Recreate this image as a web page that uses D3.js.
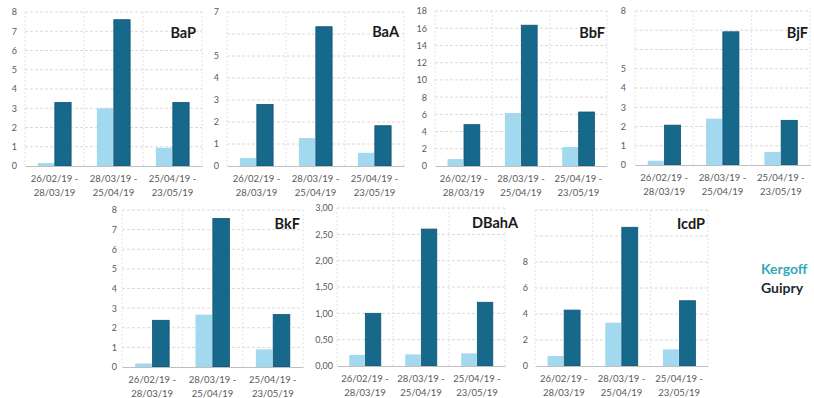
<!DOCTYPE html>
<html>
<head>
<meta charset="utf-8">
<script src="https://cdn.jsdelivr.net/npm/d3@7"></script>
<style>
  html, body { margin: 0; padding: 0; background: #ffffff; }
  svg { display: block; }
  text { font-family: Lato, "Open Sans", "Liberation Sans", sans-serif; }
</style>
</head>
<body>
<svg id="chart" width="814" height="398"></svg>
<script>
// ---------- data ----------
const categories = ["26/02/19 - 28/03/19", "28/03/19 - 25/04/19", "25/04/19 - 23/05/19"];
const seriesNames = ["Kergoff", "Guipry"];

const compounds = ["BaP", "BaA", "BbF", "BjF", "BkF", "DBahA", "IcdP"];

const kergoffBaP   = [0.15, 3.0, 0.95];
const guipryBaP    = [3.3, 7.6, 3.3];
const kergoffBaA   = [0.36, 1.27, 0.6];
const guipryBaA    = [2.8, 6.33, 1.83];
const kergoffBbF   = [0.8, 6.15, 2.2];
const guipryBbF    = [4.8, 16.35, 6.27];
const kergoffBjF   = [0.22, 2.41, 0.68];
const guipryBjF    = [2.07, 6.92, 2.32];
const kergoffBkF   = [0.18, 2.67, 0.9];
const guipryBkF    = [2.38, 7.57, 2.67];
const kergoffDBahA = [0.21, 0.22, 0.24];
const guipryDBahA  = [1.0, 2.6, 1.21];
const kergoffIcdP  = [0.77, 3.33, 1.28];
const guipryIcdP   = [4.3, 10.67, 5.02];

// tick values and labels (empty string = label not shown in the reference)
const ticksBaP   = [0, 1, 2, 3, 4, 5, 6, 7, 8];
const labelsBaP  = ["0", "1", "2", "3", "4", "5", "6", "7", "8"];
const ticksBaA   = [0, 1, 2, 3, 4, 5, 6, 7];
const labelsBaA  = ["0", "1", "2", "3", "4", "5", "", "7"];
const ticksBbF   = [0, 2, 4, 6, 8, 10, 12, 14, 16, 18];
const labelsBbF  = ["0", "2", "4", "6", "8", "10", "12", "14", "16", "18"];
const ticksBjF   = [0, 1, 2, 3, 4, 5, 6, 7, 8];
const labelsBjF  = ["0", "1", "2", "3", "4", "5", "", "", "8"];
const ticksBkF   = [0, 1, 2, 3, 4, 5, 6, 7, 8];
const labelsBkF  = ["0", "1", "2", "3", "4", "5", "6", "7", "8"];
const ticksDBahA = [0, 0.5, 1, 1.5, 2, 2.5, 3];
const labelsDBahA = ["0,00", "0,50", "1,00", "1,50", "2,00", "2,50", "3,00"];
const ticksIcdP  = [0, 2, 4, 6, 8, 10, 12];
const labelsIcdP = ["0", "2", "4", "6", "8", "", ""];

const dataByCompound = {
  BaP:   { k: kergoffBaP,   g: guipryBaP,   ticks: ticksBaP,   labels: labelsBaP },
  BaA:   { k: kergoffBaA,   g: guipryBaA,   ticks: ticksBaA,   labels: labelsBaA },
  BbF:   { k: kergoffBbF,   g: guipryBbF,   ticks: ticksBbF,   labels: labelsBbF },
  BjF:   { k: kergoffBjF,   g: guipryBjF,   ticks: ticksBjF,   labels: labelsBjF },
  BkF:   { k: kergoffBkF,   g: guipryBkF,   ticks: ticksBkF,   labels: labelsBkF },
  DBahA: { k: kergoffDBahA, g: guipryDBahA, ticks: ticksDBahA, labels: labelsDBahA },
  IcdP:  { k: kergoffIcdP,  g: guipryIcdP,  ticks: ticksIcdP,  labels: labelsIcdP }
};

// ---------- layout ----------
const layout = {
  BaP:   { left: 25,  right: 202, base: 166, top: 12,  labelX: 17,  titleX: 196, titleY: 38 },
  BaA:   { left: 227, right: 404, base: 166, top: 12,  labelX: 219, titleX: 399, titleY: 37 },
  BbF:   { left: 435, right: 607, base: 166, top: 11,  labelX: 427, titleX: 605, titleY: 38 },
  BjF:   { left: 635, right: 810, base: 165, top: 11,  labelX: 626, titleX: 808, titleY: 38 },
  BkF:   { left: 122, right: 303, base: 367, top: 210, labelX: 117, titleX: 300, titleY: 229 },
  DBahA: { left: 337, right: 505, base: 366, top: 208, labelX: 333, titleX: 518, titleY: 228 },
  IcdP:  { left: 535, right: 708, base: 366, top: 210, labelX: 528, titleX: 705, titleY: 229 }
};

const colors = { Kergoff: "#a3d9ee", Guipry: "#17698c" };
const legendColors = { Kergoff: "#35a7b8", Guipry: "#1d2a33" };

const svg = d3.select("#chart");

compounds.forEach(name => {
  const d = dataByCompound[name];
  const L = layout[name];
  const yMax = d.ticks[d.ticks.length - 1];

  const x0 = d3.scaleBand().domain(categories).range([L.left, L.right]).paddingInner(0).paddingOuter(0);
  const x1 = d3.scaleBand().domain(seriesNames).range([0, x0.bandwidth()]).paddingInner(0.04).paddingOuter(0.76);
  const y = d3.scaleLinear().domain([0, yMax]).range([L.base, L.top]);

  const g = svg.append("g").attr("class", "panel-" + name);

  // horizontal gridlines
  g.selectAll("line.hgrid").data(d.ticks.filter(t => t > 0)).join("line")
    .attr("class", "hgrid")
    .attr("x1", L.left).attr("x2", L.right)
    .attr("y1", t => y(t)).attr("y2", t => y(t))
    .attr("stroke", "#dadada").attr("stroke-width", 1)
    .attr("stroke-dasharray", "3,2");

  // vertical gridlines at category boundaries
  const bounds = categories.map(c => x0(c)).concat([L.right]);
  g.selectAll("line.vgrid").data(bounds).join("line")
    .attr("class", "vgrid")
    .attr("x1", b => b).attr("x2", b => b)
    .attr("y1", y(yMax)).attr("y2", L.base)
    .attr("stroke", "#e4e4e4").attr("stroke-width", 1)
    .attr("stroke-dasharray", "2,2");

  // y axis labels
  const yAxis = d3.axisLeft(y).tickValues(d.ticks)
    .tickFormat((t, i) => d.labels[i]).tickSize(0).tickPadding(0);
  const ya = g.append("g").attr("transform", `translate(${L.labelX},0)`).call(yAxis);
  ya.select(".domain").remove();
  ya.selectAll("text").attr("fill", "#595959").style("font-size", "9px")
    .style("font-family", "Lato, 'Open Sans', sans-serif");

  // bars
  const rows = [];
  categories.forEach((c, i) => {
    rows.push({ cat: c, s: "Kergoff", v: d.k[i] });
    rows.push({ cat: c, s: "Guipry", v: d.g[i] });
  });
  g.selectAll("rect.bar").data(rows).join("rect")
    .attr("class", "bar")
    .attr("x", r => x0(r.cat) + x1(r.s))
    .attr("width", x1.bandwidth())
    .attr("y", r => y(r.v))
    .attr("height", r => L.base - y(r.v))
    .attr("fill", r => colors[r.s])
    .attr("stroke", r => r.s === "Guipry" ? "#0f5574" : "none")
    .attr("stroke-width", 0.8);

  // x axis baseline + category labels
  const xAxis = d3.axisBottom(x0).tickSize(0).tickPadding(0).tickFormat("");
  const xa = g.append("g").attr("transform", `translate(0,${L.base})`).call(xAxis);
  xa.select(".domain").attr("stroke", "#bfbfbf").attr("stroke-width", 1);

  categories.forEach(c => {
    const parts = c.split(" - ");
    const t = g.append("text")
      .attr("x", x0(c) + x0.bandwidth() / 2)
      .attr("y", L.base + 16)
      .attr("text-anchor", "middle")
      .attr("fill", "#595959")
      .style("font-size", "9.5px");
    t.append("tspan").attr("x", x0(c) + x0.bandwidth() / 2).attr("dy", 0).text(parts[0] + " -");
    t.append("tspan").attr("x", x0(c) + x0.bandwidth() / 2).attr("dy", 13.5).text(parts[1]);
  });

  // title
  g.append("text")
    .attr("x", L.titleX).attr("y", L.titleY)
    .attr("text-anchor", "end")
    .attr("fill", "#1a1a1a")
    .style("font-size", "14.5px").style("font-weight", "bold")
    .text(name);
});

// legend
const legend = svg.append("g").attr("class", "legend");
seriesNames.forEach((s, i) => {
  legend.append("text")
    .attr("x", 761).attr("y", 274 + i * 19)
    .attr("fill", legendColors[s])
    .style("font-size", "14px").style("font-weight", "bold")
    .text(s);
});
</script>
</body>
</html>
